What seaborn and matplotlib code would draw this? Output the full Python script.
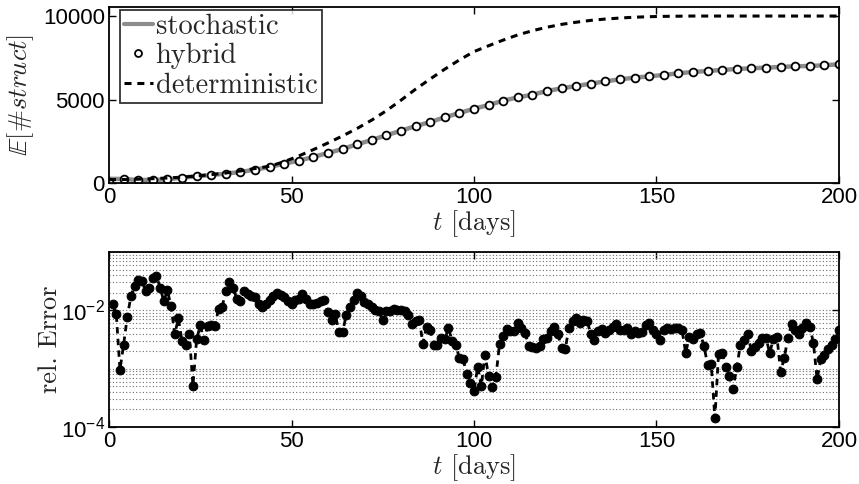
import numpy as np
import pandas as pd
import matplotlib
matplotlib.use("Agg")
import matplotlib.pyplot as plt
import seaborn as sns
from matplotlib.ticker import LogLocator, FixedLocator, NullFormatter, LogFormatterSciNotation
from matplotlib.lines import Line2D

sns.set_style("ticks")
plt.rcParams['font.family'] = ['Liberation Sans', 'DejaVu Sans']
plt.rcParams['mathtext.fontset'] = 'cm'

# ---------------- data ----------------
days_top = list(range(0, 201, 4))
stochastic = [250, 240, 180, 180, 220, 320, 400, 480, 560, 660,
              800, 960, 1160, 1340, 1560, 1800, 2040, 2320, 2580, 2860,
              3130, 3410, 3650, 3940, 4190, 4450, 4670, 4930, 5130, 5290,
              5510, 5670, 5810, 5950, 6090, 6210, 6310, 6390, 6470, 6570,
              6650, 6710, 6770, 6830, 6870, 6910, 6950, 6990, 7010, 7050, 7110]
hybrid = [40, 240, 180, 180, 220, 320, 400, 480, 560, 660,
          800, 960, 1160, 1340, 1560, 1800, 2040, 2320, 2580, 2860,
          3130, 3410, 3650, 3940, 4190, 4450, 4670, 4930, 5130, 5290,
          5510, 5670, 5810, 5950, 6090, 6210, 6310, 6390, 6470, 6570,
          6650, 6710, 6770, 6830, 6870, 6910, 6950, 6990, 7010, 7050, 7110]
deterministic = [200, 210, 230, 260, 300, 350, 420, 500, 600, 720,
                 870, 1000, 1280, 1620, 2000, 2400, 2820, 3270, 3770, 4330,
                 4960, 5620, 6230, 6820, 7370, 7870, 8220, 8560, 8870, 9120,
                 9330, 9500, 9630, 9740, 9820, 9880, 9930, 9960, 9980, 9990,
                 10000, 10000, 10000, 10000, 10000, 10000, 10000, 10000, 10000, 10000, 10000]

days_err = list(range(1, 201))
log10_rel_error = [
    -1.90, -2.07, -3.02, -2.59, -2.11, -1.76, -1.58, -1.48, -1.49, -1.67,
    -1.61, -1.45, -1.41, -1.61, -1.84, -1.66, -1.93, -2.41, -2.14, -2.53,
    -2.60, -2.41, -3.29, -2.50, -2.26, -2.51, -2.27, -2.26, -2.27, -1.98,
    -1.94, -1.67, -1.51, -1.61, -1.81, -1.84, -1.67, -1.72, -1.75, -1.78,
    -1.89, -1.95, -1.90, -1.82, -1.76, -1.71, -1.74, -1.78, -1.84, -1.89,
    -1.82, -1.80, -1.72, -1.81, -1.89, -1.90, -1.87, -1.84, -1.82, -2.03,
    -2.16, -2.07, -2.37, -2.37, -2.08, -1.95, -1.83, -1.70, -1.75, -1.86,
    -1.90, -1.94, -2.00, -2.01, -2.17, -2.01, -2.01, -1.97, -2.00, -2.00,
    -2.02, -2.08, -2.24, -2.18, -2.16, -2.57, -2.28, -2.33, -2.59, -2.60,
    -2.47, -2.50, -2.30, -2.53, -2.59, -2.82, -2.83, -3.10, -3.24, -3.38,
    -2.97, -3.30, -2.76, -3.12, -3.32, -3.14, -2.57, -2.44, -2.32, -2.36,
    -2.36, -2.21, -2.30, -2.39, -2.61, -2.63, -2.64, -2.61, -2.49, -2.47,
    -2.36, -2.28, -2.41, -2.64, -2.67, -2.30, -2.18, -2.13, -2.22, -2.16,
    -2.18, -2.41, -2.51, -2.36, -2.32, -2.39, -2.33, -2.28, -2.24, -2.33,
    -2.34, -2.30, -2.41, -2.36, -2.39, -2.37, -2.26, -2.21, -2.33, -2.40,
    -2.51, -2.33, -2.31, -2.32, -2.31, -2.30, -2.34, -2.73, -2.45, -2.49,
    -2.41, -2.39, -2.61, -2.93, -2.92, -3.85, -2.75, -2.73, -2.97, -3.13,
    -3.35, -2.97, -2.59, -2.51, -2.41, -2.70, -2.63, -2.56, -2.47, -2.47,
    -2.73, -2.50, -2.45, -3.05, -2.82, -2.47, -2.24, -2.34, -2.41, -2.30,
    -2.22, -2.28, -2.56, -3.18, -2.84, -2.76, -2.67, -2.60, -2.50, -2.33]

x_ticks = [0, 50, 100, 150, 200]
y_ticks_top = [0, 5000, 10000]
y_ticks_err = [1e-4, 1e-2]

top_df = pd.DataFrame({"t": days_top, "stochastic": stochastic,
                       "hybrid": hybrid, "deterministic": deterministic})
err_df = pd.DataFrame({"t": days_err, "err": 10.0 ** np.array(log10_rel_error)})

# ---------------- figure ----------------
fig = plt.figure(figsize=(8.59, 4.84), dpi=100)
ax1 = fig.add_axes([0.1269, 0.6219, 0.8498, 0.3636])
ax2 = fig.add_axes([0.1269, 0.1178, 0.8498, 0.3616])

serif = 'cmr10'
tick_fs = 16
label_fs = 19
dash = (0, (2.3, 1.9))

# top panel
sns.lineplot(data=top_df, x="t", y="stochastic", ax=ax1, color="#8c8c8c",
             linewidth=3.2, label="stochastic", estimator=None)
sns.lineplot(data=top_df, x="t", y="hybrid", ax=ax1, color="black",
             linestyle="none", marker="o", markersize=5.6, markerfacecolor="white",
             markeredgecolor="black", markeredgewidth=1.3, label="hybrid",
             estimator=None)
sns.lineplot(data=top_df, x="t", y="deterministic", ax=ax1, color="black",
             linewidth=2.2, linestyle=dash, label="deterministic",
             estimator=None)

ax1.set_xlim(0, 200)
ax1.set_ylim(0, 10540)
ax1.set_xticks(x_ticks)
ax1.set_yticks(y_ticks_top)
ax1.set_xlabel(r"$t$ [days]", fontfamily=serif, fontsize=label_fs, labelpad=0)
ax1.set_ylabel(r"$\mathbb{E}$[#$struct$]", fontfamily=serif,
               fontsize=label_fs, labelpad=2)

handles = [Line2D([], [], color="#8c8c8c", lw=3.0),
           Line2D([], [], color="black", ls="none", marker="o", ms=5,
                  mfc="white", mec="black", mew=1.3),
           Line2D([], [], color="black", lw=2.2, ls=dash)]
leg = ax1.legend(handles, ["stochastic", "hybrid", "deterministic"],
                 loc="upper left", bbox_to_anchor=(0.015, 0.985),
                 borderaxespad=0, prop={"family": serif, "size": 20.5},
                 frameon=True, fancybox=False, edgecolor="black",
                 handlelength=1.0, handletextpad=0.1, labelspacing=0.1,
                 borderpad=0.15)
leg.get_frame().set_linewidth(1.3)

# bottom panel
sns.lineplot(data=err_df, x="t", y="err", ax=ax2, color="black",
             linewidth=2.0, linestyle=dash, marker="o",
             markersize=6.3, markeredgecolor="black", markerfacecolor="black",
             estimator=None)
ax2.set_yscale("log")
ax2.set_xlim(0, 200)
ax2.set_ylim(1e-4, 1e-1)
ax2.set_xticks(x_ticks)
ax2.yaxis.set_major_locator(FixedLocator(y_ticks_err))
ax2.yaxis.set_major_formatter(LogFormatterSciNotation())
ax2.yaxis.set_minor_locator(LogLocator(base=10, subs=np.arange(1, 10), numticks=20))
ax2.yaxis.set_minor_formatter(NullFormatter())
ax2.grid(True, which="both", axis="y", color="#6e6e6e",
         linestyle=(0, (1, 2)), linewidth=0.8)
ax2.set_axisbelow(True)
ax2.set_xlabel(r"$t$ [days]", fontfamily=serif, fontsize=label_fs, labelpad=0)
ax2.set_ylabel("rel. Error", fontfamily=serif, fontsize=label_fs, labelpad=2)

for ax in (ax1, ax2):
    for s in ax.spines.values():
        s.set_visible(True)
        s.set_linewidth(1.3)
        s.set_color("black")
    ax.tick_params(axis="both", which="major", direction="in", length=5,
                   width=1.0, top=True, right=True, labelsize=tick_fs,
                   pad=3, colors="black")
    ax.tick_params(axis="y", which="minor", length=0)

ax1.yaxis.set_label_coords(-0.1, 0.5)
ax2.yaxis.set_label_coords(-0.065, 0.5)

fig.savefig("out.png", dpi=100)
